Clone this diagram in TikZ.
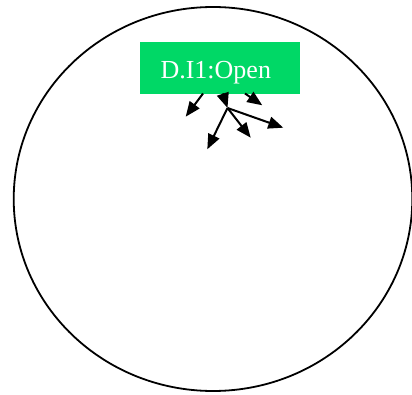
\documentclass[tikz,border=0pt]{standalone}
\usepackage{fontspec}
\setmainfont{Liberation Serif}
\usetikzlibrary{arrows.meta}
\definecolor{boxgreen}{RGB}{0,216,102}
\tikzset{
  conn/.style={line width=2pt,-{Triangle[length=15pt,width=12pt]}},
  lbl/.style={text=white,font=\fontsize{26}{30}\selectfont,inner sep=0pt,anchor=base}
}
\begin{document}
\begin{tikzpicture}[x=1pt,y=-1pt]
\useasboundingbox (0,0) rectangle (412,395);
\draw[line width=1.8pt] (213,199) ellipse [x radius=199.3pt, y radius=192pt];
\fill[boxgreen] (140,42) rectangle (300,94);
\node[draw=none,minimum width=160pt,minimum height=52pt,inner sep=0pt] (box) at (220,68) {};
\node[lbl] (t) at (215.8,78.3) {D.I1:Open};
\coordinate (hub) at (227.5,108);
\coordinate (s1) at (203,93.5);
\coordinate (s2) at (222.7,93.5);
\coordinate (s3) at (245,93.5);
\coordinate (e1) at (185.7,116.7);
\coordinate (e3) at (262.3,105.3);
\coordinate (h1) at (207.3,149.3);
\coordinate (h2) at (250.7,137.7);
\coordinate (h3) at (283.3,127.7);
\draw[conn] (s1) -- (e1);
\draw[conn] (s3) -- (e3);
\draw[conn] (hub) -- (h1);
\draw[conn] (hub) -- (h2);
\draw[conn] (hub) -- (h3);
\draw[conn] (s2) -- (hub);
\end{tikzpicture}
\end{document}
